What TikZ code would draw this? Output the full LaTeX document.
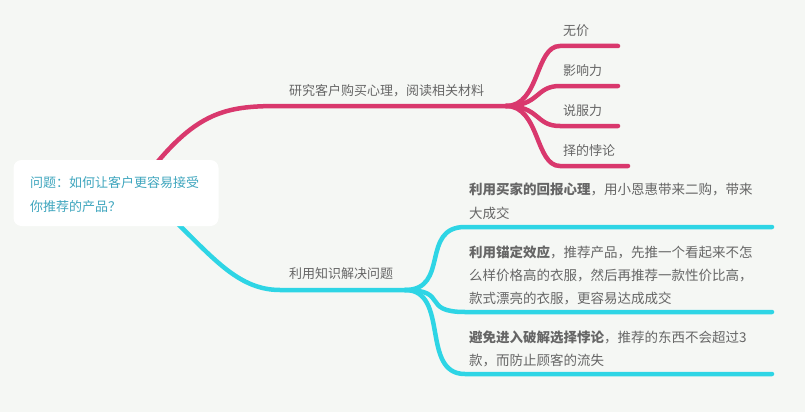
\documentclass[tikz,border=0pt]{standalone}
\usepackage{fontspec}
\setmainfont{Noto Sans CJK SC}
\definecolor{bg}{HTML}{F5F7F4}
\definecolor{pk}{HTML}{D9386D}
\definecolor{cy}{HTML}{2ED5E5}
\definecolor{tx}{HTML}{666666}
\definecolor{rt}{HTML}{3FA6BE}
\begin{document}
\begin{tikzpicture}[x=1pt,y=-1pt,
  pl/.style={pk,line width=4.5pt,line cap=round},
  cl/.style={cy,line width=4.5pt,line cap=round},
  lab/.style={anchor=west,inner sep=0pt,text=tx,font=\fontsize{13}{15}\selectfont},
  blab/.style={lab,font=\fontsize{13.5}{15}\selectfont}]
\fill[bg] (0,0) rectangle (805,412);
\useasboundingbox (0,0) rectangle (805,412);
% branches
\coordinate (p0) at (155,165); \coordinate (p1) at (280,106); \coordinate (pj) at (506,106);
\coordinate (c0) at (178,224); \coordinate (c1) at (280,290); \coordinate (cj) at (405,290);
\draw[pl] (p0) .. controls (200,110) and (230,106) .. (p1) -- (pj);
\draw[cl] (c0) .. controls (215,260) and (240,290) .. (c1) -- (cj);
\foreach \y/\e [count=\i] in {46/618,86/618,126/618,166/628}{
  \coordinate (pe\i) at (\e,\y);
  \draw[pl] (pj) .. controls (540,106) and (535,\y) .. (560,\y) -- (pe\i);}
\foreach \y [count=\i] in {227,312,374}{
  \coordinate (ce\i) at (772,\y);
  \draw[cl] (cj) .. controls (450,290) and (420,\y) .. (465,\y) -- (ce\i);}
% root
\node[fill=white,rounded corners=8pt,minimum width=205pt,minimum height=66pt,inner sep=0pt] (root) at (116,193) {};
\node[lab,text=rt] (r1) at (30,183) {问题：如何让客户更容易接受};
\node[lab,text=rt] (r2) at (30,207) {你推荐的产品？};
% labels
\node[lab] (b1) at (289,91) {研究客户购买心理，阅读相关材料};
\node[lab] (b2) at (289,274) {利用知识解决问题};
\node[lab] (l1) at (563,31) {无价};
\node[lab] (l2) at (563,71) {影响力};
\node[lab] (l3) at (563,111) {说服力};
\node[lab] (l4) at (563,151) {择的悖论};
\node[blab] (t1) at (469,189) {\textbf{利用买家的回报心理}，用小恩惠带来二购，带来};
\node[blab] (t2) at (469,213) {大成交};
\node[blab] (t3) at (469,252) {\textbf{利用锚定效应}，推荐产品，先推一个看起来不怎};
\node[blab] (t4) at (469,275) {么样价格高的衣服，然后再推荐一款性价比高，};
\node[blab] (t5) at (469,298) {款式漂亮的衣服，更容易达成成交};
\node[blab] (t6) at (469,337) {\textbf{避免进入破解选择悖论}，推荐的东西不会超过3};
\node[blab] (t7) at (469,360) {款，而防止顾客的流失};
\end{tikzpicture}
\end{document}
